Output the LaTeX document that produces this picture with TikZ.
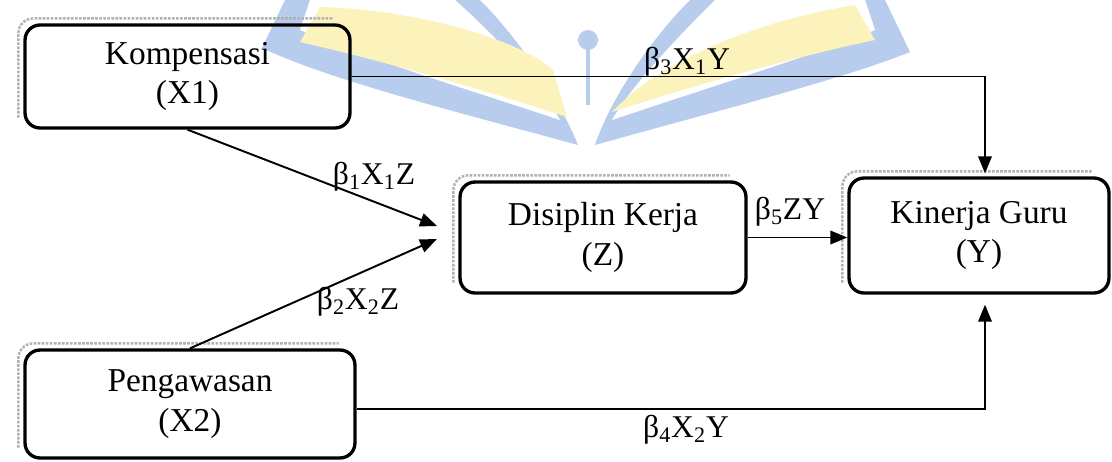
\documentclass[tikz,border=0pt]{standalone}
\usepackage{fontspec}
\setmainfont{Liberation Serif}
\usetikzlibrary{arrows.meta,calc}
\definecolor{wmblue}{RGB}{184,205,238}
\definecolor{wmyellow}{RGB}{252,242,188}
\begin{document}
\begin{tikzpicture}[x=0.02cm,y=-0.02cm,
  box/.style={draw, line width=1.9pt, rounded corners=0.3cm, align=center,
    font=\fontsize{19}{22.5}\selectfont, inner sep=0pt},
  shad/.style={draw=gray!60, line width=1.4pt, rounded corners=0.3cm,
    dash pattern=on 1.5pt off 0.8pt},
  arr/.style={line width=1.1pt, -{Triangle[length=0.34cm,width=0.27cm]}},
  lab/.style={font=\fontsize{18}{22}\selectfont, inner sep=0pt}
]
\useasboundingbox (0,0) rectangle (1112,461);
\fill[white] (0,0) rectangle (1112,461);
% watermark
\fill[wmblue] (578,145) .. controls (450,110) and (330,80) .. (262,48) -- (285,0) -- (480,0)
  .. controls (520,40) and (560,100) .. cycle;
\fill[white] (560,120) .. controls (470,90) and (370,60) .. (300,30) -- (310,0) -- (455,0)
  .. controls (500,40) and (540,85) .. cycle;
\fill[wmblue] (595,145) .. controls (720,110) and (840,80) .. (910,52) -- (885,0) -- (690,0)
  .. controls (650,40) and (610,100) .. cycle;
\fill[white] (612,120) .. controls (700,90) and (800,60) .. (875,30) -- (865,0) -- (715,0)
  .. controls (675,40) and (632,85) .. cycle;
\fill[wmyellow] (300,42) -- (320,7) .. controls (420,10) and (520,40) .. (553,70)
  -- (567,117) .. controls (500,95) and (400,65) .. cycle;
\fill[wmyellow] (612,112) .. controls (660,60) and (760,20) .. (855,5)
  -- (875,40) .. controls (780,60) and (680,90) .. cycle;
\fill[wmblue] (588,40) circle[radius=10];
\draw[wmblue, line width=2pt] (588,48) -- (588,105);
% boxes
\node[box, minimum width=6.5cm, minimum height=2.06cm] (X1) at (187.5,76.5) {Kompensasi\\(X1)};
\node[box, minimum width=5.72cm, minimum height=2.22cm] (Z) at (603,237.5) {Disiplin Kerja\\(Z)};
\node[box, minimum width=5.2cm, minimum height=2.3cm] (Y) at (979,235.5) {Kinerja Guru\\(Y)};
\node[box, minimum width=6.6cm, minimum height=2.16cm] (X2) at (190,404) {Pengawasan\\(X2)};
\foreach \b in {X1,Z,Y,X2}{
  \draw[shad] ($(\b.south west)+(-5,-12)$) -- ($(\b.north west)+(-5,-5)$) -- ($(\b.north east)+(-18,-5)$);
}
% connectors
\coordinate (z1) at (437,226);
\coordinate (z2) at (437,239);
\draw[arr] (X1.south) -- (z1);
\draw[arr] (X2.north) -- (z2);
\draw[arr] (Z.east) -- (Z.east -| Y.west);
\draw[arr] (X1.east) -| ($(Y.north)+(6,-3)$);
\draw[arr] ($(X2.east)+(0,5)$) -| ($(Y.south)+(6,10)$);
% labels
\node[lab] (l1) at (374,177) {β\textsubscript{1}X\textsubscript{1}Z};
\node[lab] (l2) at (358,302) {β\textsubscript{2}X\textsubscript{2}Z};
\node[lab] (l3) at (687,62) {β\textsubscript{3}X\textsubscript{1}Y};
\node[lab] (l4) at (686,430) {β\textsubscript{4}X\textsubscript{2}Y};
\node[lab] (l5) at (790,212) {β\textsubscript{5}ZY};
\end{tikzpicture}
\end{document}
